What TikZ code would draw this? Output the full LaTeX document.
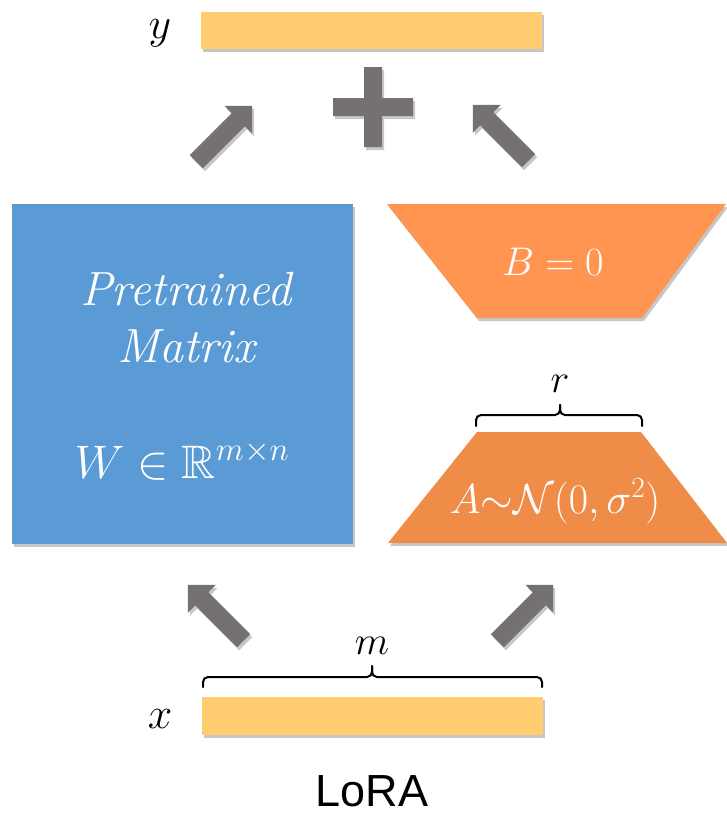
\RequirePackage{fix-cm}
\documentclass[tikz,border=0pt]{standalone}
\usepackage{amsmath,amssymb}
\usepackage{fontspec}
\newfontfamily\lorafont{Liberation Sans}
\usetikzlibrary{shapes.arrows,shadows}
\definecolor{barY}{HTML}{FFCD70}
\definecolor{matBlue}{HTML}{5B9BD5}
\definecolor{orB}{HTML}{FF9550}
\definecolor{orA}{HTML}{EE8C48}
\definecolor{agray}{HTML}{767171}
\begin{document}
\begin{tikzpicture}[x=1pt,y=-1pt,
  shdw/.style={drop shadow={shadow xshift=2pt,shadow yshift=-3pt,opacity=0.22,fill=black}},
  bar/.style={fill=barY,shdw},
  blockarrow/.style={single arrow,fill=agray,draw=none,minimum height=79pt,minimum width=39pt,
    inner sep=9pt,single arrow head extend=10.5pt,single arrow head indent=0pt,single arrow tip angle=90,shdw},
  lbl/.style={font=\fontsize{44}{48}\selectfont,inner sep=0pt},
  slbl/.style={font=\fontsize{40}{44}\selectfont,inner sep=0pt},
  wtxt/.style={text=white,inner sep=0pt,anchor=base},
  brc/.style={line width=2pt,line cap=round,rounded corners=5pt}
]
\useasboundingbox (0,0) rectangle (727,814);
% bars
\fill[bar] (201,12) rectangle (542,49);
\fill[bar] (202,697) rectangle (543,735);
\node[lbl] (ylab) at (160,33) {$y$};
\node[lbl] (xlab) at (160,719) {$x$};
% plus
\fill[agray,shdw] (364,67) -- (382,67) -- (382,98) -- (413,98) -- (413,116) -- (382,116) -- (382,147)
  -- (364,147) -- (364,116) -- (333,116) -- (333,98) -- (364,98) -- cycle;
% arrows
\node[blockarrow,rotate=45] (a1) at (221,137) {};
\node[blockarrow,rotate=135] (a2) at (504,136) {};
\node[blockarrow,rotate=135] (a3) at (219,616) {};
\node[blockarrow,rotate=45] (a4) at (522,616) {};
% pretrained matrix
\fill[matBlue,shdw] (12,204) rectangle (353,544);
\node[wtxt,font=\fontsize{48}{52}\selectfont\itshape] (pt) at (186,305) {Pretrained};
\node[wtxt,font=\fontsize{48}{52}\selectfont\itshape] (mt) at (186,362) {Matrix};
\node[wtxt,font=\fontsize{47}{51}\selectfont] (wt) at (182,478) {$W\in\mathbb{R}^{m\times n}$};
% B trapezoid
\fill[orB,shdw] (387,204) -- (726,204) -- (642,318) -- (477,318) -- cycle;
\node[wtxt,font=\fontsize{40}{44}\selectfont] (bt) at (553,275) {$B=0$};
% A trapezoid
\fill[orA,shdw] (477,432) -- (641,432) -- (727,543) -- (388,543) -- cycle;
\node[wtxt,font=\fontsize{42}{46}\selectfont] (at) at (555,513) {$A{\sim}\mathcal{N}(0,\sigma^2)$};
% braces
\coordinate (rl) at (476,426);
\coordinate (rr) at (642,426);
\coordinate (rm) at (560,415);
\coordinate (rt) at (560,405);
\draw[brc] (rl) |- (rm) -- (rt);
\draw[brc] (rr) |- (rm) -- (rt);
\node[slbl] (rlab) at (560,384) {$r$};
\coordinate (ml) at (203,687);
\coordinate (mr) at (542,687);
\coordinate (mm) at (372,677);
\coordinate (mtip) at (372,666);
\draw[brc] (ml) |- (mm) -- (mtip);
\draw[brc] (mr) |- (mm) -- (mtip);
\node[slbl] (mlab) at (372,646) {$m$};
% title
\node[inner sep=0pt,anchor=base,font=\lorafont\fontsize{45}{50}\selectfont] (title) at (372,806) {LoRA};
\end{tikzpicture}
\end{document}
